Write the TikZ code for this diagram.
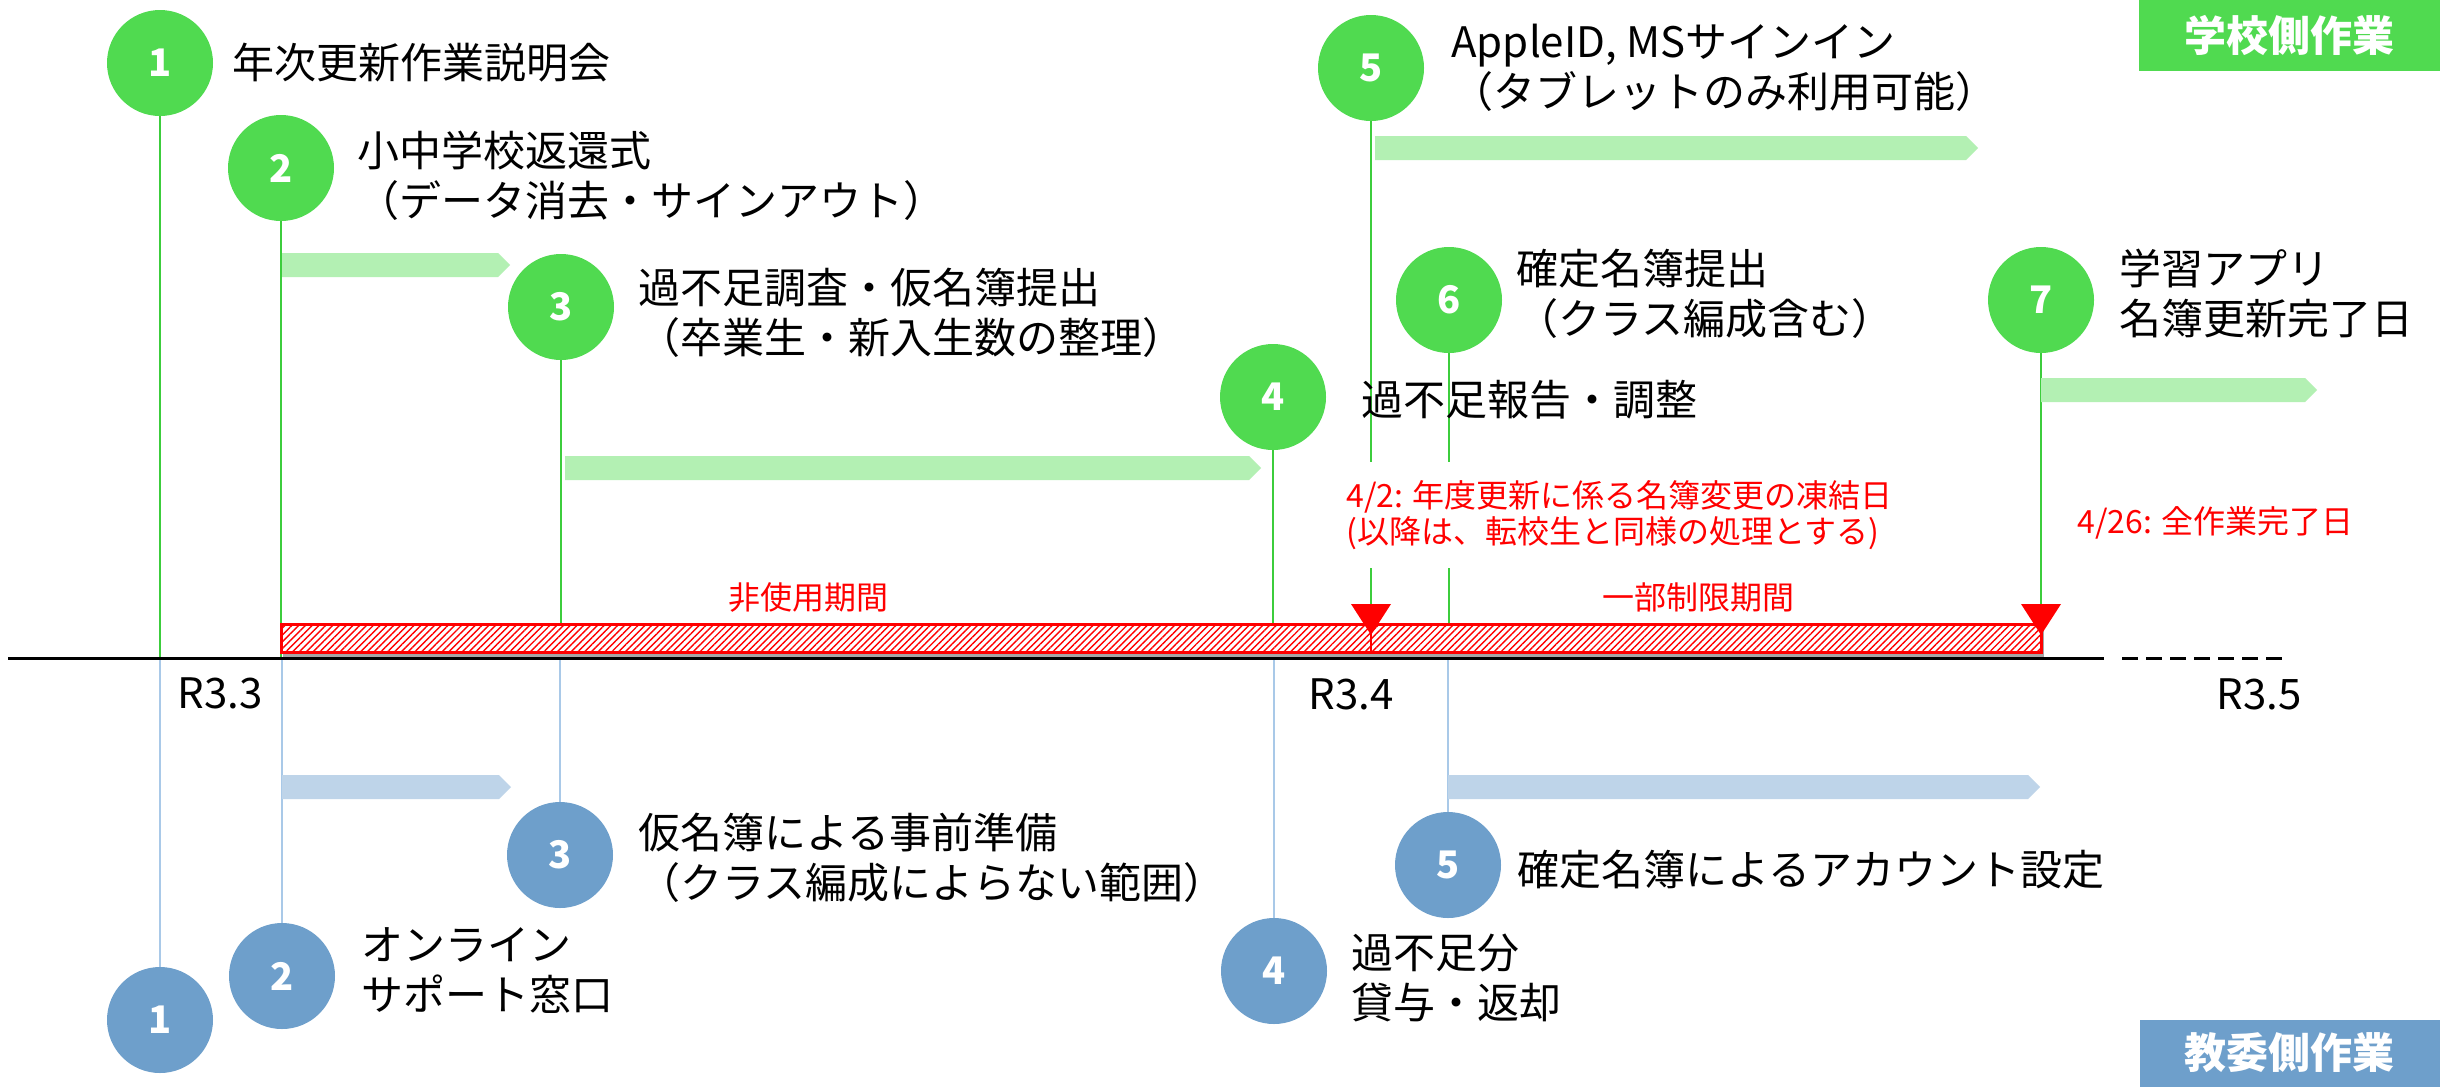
\documentclass[tikz,border=0pt]{standalone}
\usepackage{fontspec}
\setmainfont{Noto Sans CJK JP}
\usetikzlibrary{patterns,patterns.meta}
\definecolor{cgreen}{RGB}{80,218,80}
\definecolor{lgreen}{RGB}{179,240,179}
\definecolor{gline}{RGB}{60,205,60}
\definecolor{cblue}{RGB}{110,159,203}
\definecolor{lblue}{RGB}{190,212,233}
\definecolor{bline}{RGB}{169,201,232}
\pgfdeclarelayer{bg}
\pgfsetlayers{bg,main}
\tikzset{
 gdot/.style={circle, fill=cgreen, minimum size=53pt, inner sep=0pt, text=white, font=\fontsize{19}{19}\selectfont\bfseries},
 bdot/.style={gdot, fill=cblue},
 lbl/.style={anchor=west, align=left, inner sep=0pt, font=\fontsize{21}{25}\selectfont},
 rlbl/.style={text=red, font=\fontsize{16}{18}\selectfont, inner sep=0pt, align=left},
 axlbl/.style={font=\fontsize{21}{21}\selectfont, inner sep=0pt},
 gconn/.style={draw=gline, line width=1pt},
 bconn/.style={draw=bline, line width=1pt},
 tagbox/.style={text=white, font=\fontsize{21}{21}\selectfont\bfseries, inner sep=0pt}
}
\newcommand\tlband[4]{%
 \fill[#4] (#1,#3-12) -- (#2-12,#3-12) -- (#2,#3) -- (#2-12,#3+12) -- (#1,#3+12) -- cycle;}
\begin{document}
\begin{tikzpicture}[x=0.5pt,y=-0.5pt]
\useasboundingbox (0,0) rectangle (2440,1087);
\coordinate (ax) at (0,658);
\coordinate (k1) at (1371,604);
\coordinate (k2) at (2041,604);
% school side circles
\node[gdot] (g1) at (160,63) {1};
\node[gdot] (g2) at (281,168) {2};
\node[gdot] (g3) at (561,307) {3};
\node[gdot] (g4) at (1273,397) {4};
\node[gdot] (g5) at (1371,68) {5};
\node[gdot] (g6) at (1449,300) {6};
\node[gdot] (g7) at (2041,300) {7};
% board side circles
\node[bdot] (b1) at (160,1020) {1};
\node[bdot] (b2) at (282,976) {2};
\node[bdot] (b3) at (560,855) {3};
\node[bdot] (b4) at (1274,971) {4};
\node[bdot] (b5) at (1448,865) {5};
\begin{pgfonlayer}{bg}
 \fill[white] (0,0) rectangle (2440,1087);
 \draw[gconn] (g1.south) -- (g1.south |- ax);
 \draw[gconn] (g2.south) -- (g2.south |- ax);
 \draw[gconn] (g3.south) -- (g3.south |- ax);
 \draw[gconn] (g4.south) -- (g4.south |- ax);
 \draw[gconn] (g5.south) -- (k1);
 \draw[gconn] (g6.south) -- (g6.south |- ax);
 \draw[gconn] (g7.south) -- (k2);
 \draw[bconn] (b1.north) -- (b1.north |- ax);
 \draw[bconn] (b2.north) -- (b2.north |- ax);
 \draw[bconn] (b3.north) -- (b3.north |- ax);
 \draw[bconn] (b4.north) -- (b4.north |- ax);
 \draw[bconn] (b5.north) -- (b5.north |- ax);
 % axis
 \draw[line width=1.5pt] (8,658) -- (2104,658);
 \draw[line width=1.5pt, dash pattern=on 8pt off 4pt] (2122,658) -- (2283,658);
 % bar
 \fill[gray!70] (283,628) rectangle (2044,657);
 \fill[white] (281,624) rectangle (2041,652);
 \fill[pattern={Lines[angle=45,distance=2.4pt,line width=0.7pt]}, pattern color=red] (281,624) rectangle (2041,652);
 \draw[red, line width=1.5pt] (281,624) rectangle (2041,652);
 % red markers
 \fill[red] ([xshift=-10pt]k1) -- ([xshift=10pt]k1) -- ([yshift=-15.5pt]k1) -- cycle;
 \draw[red, line width=1pt] (k1) -- ++(0,48);
 \fill[red] ([xshift=-10pt]k2) -- ([xshift=10pt]k2) -- ([yshift=-15.5pt]k2) -- cycle;
 \draw[red, line width=1pt] (k2) -- ++(0,48);
\end{pgfonlayer}
% bands
\tlband{282}{510}{265}{lgreen}
\tlband{565}{1261}{468}{lgreen}
\tlband{1375}{1978}{148}{lgreen}
\tlband{2041}{2317}{390}{lgreen}
\tlband{282}{511}{787}{lblue}
\tlband{1448}{2040}{787}{lblue}
% labels
\node[lbl] (l1) at (232,63) {年次更新作業説明会};
\node[lbl] (l2) at (357,176) {小中学校返還式\\（データ消去・サインアウト）};
\node[lbl] (l3) at (638,313) {過不足調査・仮名簿提出\\（卒業生・新入生数の整理）};
\node[lbl] (l4) at (1361,400) {過不足報告・調整};
\node[lbl] (l5) at (1451,68) {AppleID, MSサインイン\\（タブレットのみ利用可能）};
\node[lbl] (l6) at (1516,294) {確定名簿提出\\（クラス編成含む）};
\node[lbl] (l7) at (2119,294) {学習アプリ\\名簿更新完了日};
\node[lbl] (m3) at (638,858) {仮名簿による事前準備\\（クラス編成によらない範囲）};
\node[lbl] (m2) at (361,971) {オンライン\\サポート窓口};
\node[lbl] (m4) at (1351,978) {過不足分\\貸与・返却};
\node[lbl] (m5) at (1517,870) {確定名簿によるアカウント設定};
% red notes
\node[rlbl, anchor=west, fill=white, inner ysep=9pt] (r1) at (1346,515) {4/2: 年度更新に係る名簿変更の凍結日\\(以降は、転校生と同様の処理とする)};
\node[rlbl, anchor=west] (r2) at (2077,523) {4/26: 全作業完了日};
\node[rlbl] (r3) at (808,597) {非使用期間};
\node[rlbl] (r4) at (1698,597) {一部制限期間};
% axis labels
\node[axlbl] (x1) at (220,693) {R3.3};
\node[axlbl] (x2) at (1351,694) {R3.4};
\node[axlbl] (x3) at (2259,694) {R3.5};
% tags
\node[tagbox, fill=cgreen, anchor=north east, minimum width=150.5pt, minimum height=35.5pt] (tagS) at (2440,0) {学校側作業};
\node[tagbox, fill=cblue, anchor=south east, minimum width=150pt, minimum height=33.5pt] (tagE) at (2440,1087) {教委側作業};
\end{tikzpicture}
\end{document}
